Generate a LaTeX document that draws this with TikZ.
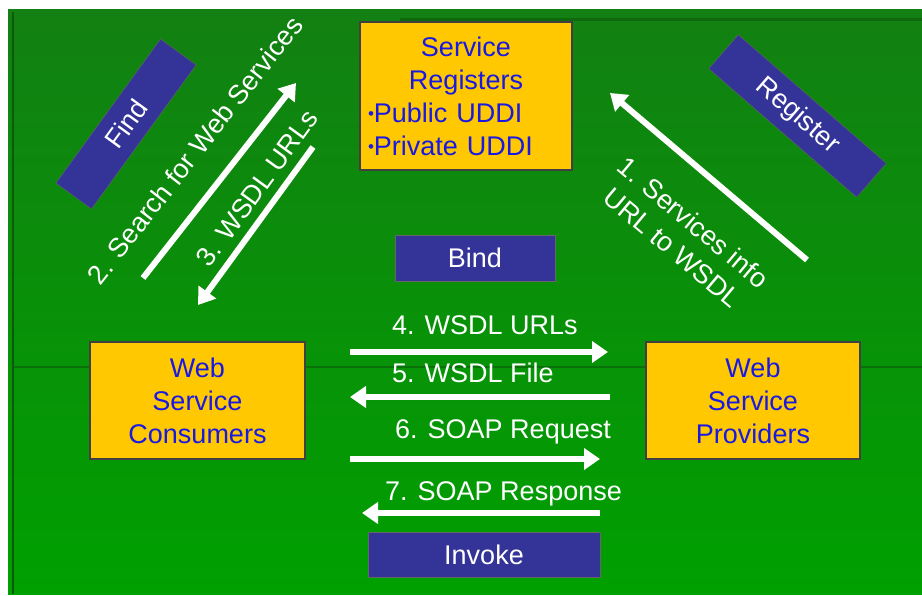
\documentclass[tikz,border=0pt]{standalone}
\usepackage{fontspec}
\setmainfont{Liberation Sans}
\usetikzlibrary{arrows.meta}

\definecolor{slidetop}{RGB}{18,128,18}
\definecolor{slidebot}{RGB}{0,160,0}
\definecolor{boxfill}{RGB}{255,200,0}
\definecolor{boxtext}{RGB}{25,25,225}
\definecolor{tagfill}{RGB}{52,52,152}

% small bullet in front of the registry kinds
\newcommand{\sbul}{{\fontsize{17}{17}\selectfont\raisebox{3pt}{•}}}

\begin{document}
\begin{tikzpicture}[x=1pt,y=-1pt]
    \useasboundingbox (0,0) rectangle (922,596);
    \fill[white] (0,0) rectangle (922,596);
    \shade[top color=slidetop,bottom color=slidebot] (8,10) rectangle (922,594);
    \draw[slidetop!70!black,line width=2pt] (13,12) -- (13,594);
    \draw[slidetop!70!black,line width=3pt,opacity=.6] (400,20) -- (922,20);
    \draw[slidetop!70!black,line width=2pt,opacity=.6] (14,367) -- (922,367);

    % yellow boxes
    \begin{scope}[every node/.style={draw=black!75,line width=1.5pt,fill=boxfill,
        text=boxtext,font=\fontsize{27}{33}\selectfont,inner sep=8pt}]
        \node[text width=196pt,align=left,minimum height=148pt] (reg) at (466,96)
            {\makebox[\linewidth]{Service}\\\makebox[\linewidth]{Registers}\\%
             \sbul Public UDDI\\\sbul Private UDDI};
        \node[align=center,minimum width=215pt,minimum height=117pt] (cons) at (197.5,400.5)
            {Web\\Service\\Consumers};
        \node[align=center,minimum width=214pt,minimum height=117pt] (prov) at (753,400.5)
            {Web\\Service\\Providers};
    \end{scope}

    % blue tags
    \begin{scope}[every node/.style={fill=tagfill,draw=black!60,text=white,
        font=\fontsize{27}{33}\selectfont,inner sep=0pt}]
        \node[rotate=54,minimum width=178pt,minimum height=44pt] (find) at (126,124) {Find};
        \node[rotate=-41,minimum width=196pt,minimum height=45pt] (regtag) at (797.5,116) {Register};
        \node[minimum width=160pt,minimum height=46pt] (bind) at (475,258) {Bind};
        \node[minimum width=232pt,minimum height=45pt] (invoke) at (484,554.5) {Invoke};
    \end{scope}

    % arrow ends
    \coordinate (s1) at (143,278);  \coordinate (s2) at (296,83);
    \coordinate (u1) at (313,147);  \coordinate (u2) at (198,305);
    \coordinate (p1) at (807,260);  \coordinate (p2) at (610,93);
    \coordinate (a4) at (350,352);  \coordinate (b4) at (608,352);
    \coordinate (a5) at (610,397);  \coordinate (b5) at (350,397);
    \coordinate (a6) at (350,459);  \coordinate (b6) at (600,459);
    \coordinate (a7) at (600,513);  \coordinate (b7) at (362,513);

    \begin{scope}[>={Triangle[length=16pt,width=21pt]},
        every edge/.style={draw=white,line width=6pt}]
        \path [->] (s1) edge (s2);
        \path [->] (u1) edge (u2);
        \path [->] (p1) edge (p2);
        \path [->] (a4) edge (b4);
        \path [->] (a5) edge (b5);
        \path [->] (a6) edge (b6);
        \path [->] (a7) edge (b7);
    \end{scope}

    % message labels
    \begin{scope}[every node/.style={text=white,font=\fontsize{27}{33}\selectfont,inner sep=0pt}]
        \node[rotate=52] (l2) at (195,150) {2. Search for Web Services};
        \node[rotate=54] (l3) at (257,188) {3. WSDL URLs};
        \node[rotate=-40,align=center] (l1) at (683,235) {1. Services info\\URL to WSDL};
        \node[anchor=base west] (l4) at (392,335) {4. WSDL URLs};
        \node[anchor=base west] (l5) at (392,383) {5. WSDL File};
        \node[anchor=base west] (l6) at (395,438) {6. SOAP Request};
        \node[anchor=base west] (l7) at (385,500) {7. SOAP Response};
    \end{scope}

\end{tikzpicture}
\end{document}
